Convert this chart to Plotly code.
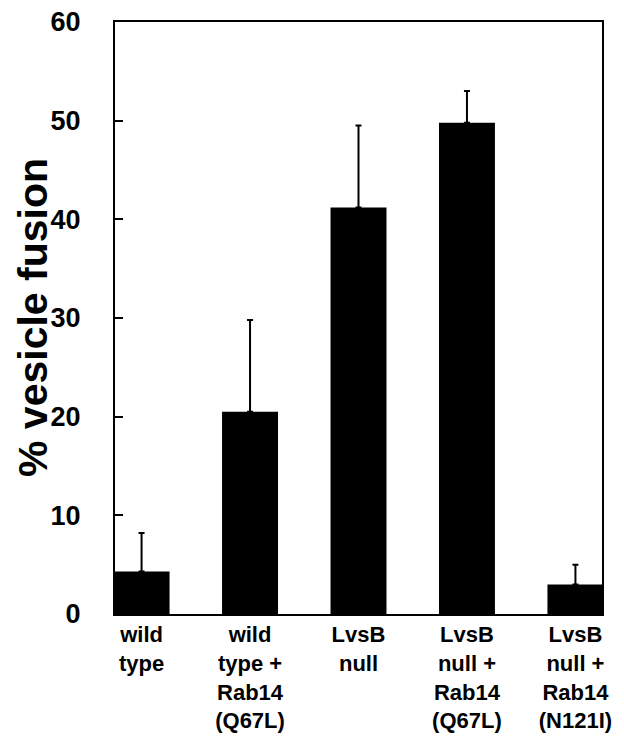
import plotly.graph_objects as go

categories = ["wild<br>type", "wild<br>type +<br>Rab14<br>(Q67L)", "LvsB<br>null",
              "LvsB<br>null +<br>Rab14<br>(Q67L)", "LvsB<br>null +<br>Rab14<br>(N121I)"]
values = [4.3, 20.5, 41.2, 49.8, 3.0]
errors = [3.9, 9.3, 8.3, 3.2, 2.0]
y_ticks = [0, 10, 20, 30, 40, 50, 60]
y_title = "% vesicle fusion"

FONT = "Liberation Sans, Arial, sans-serif"

fig = go.Figure(go.Bar(
    x=list(range(len(categories))), y=values,
    marker=dict(color="black", line=dict(width=0)),
    width=0.516,
    error_y=dict(type="data", symmetric=False, array=errors,
                 arrayminus=[0] * len(errors), color="black",
                 thickness=2, width=3),
))

fig.update_layout(
    width=624, height=737,
    margin=dict(l=107, r=30, t=14, b=131),
    plot_bgcolor="white", paper_bgcolor="white",
    showlegend=False,
    font=dict(family=FONT, color="black"),
    xaxis=dict(
        range=[-0.245, 4.245], automargin=False,
        tickmode="array", tickvals=list(range(len(categories))), ticktext=categories,
        ticks="", showgrid=False, zeroline=False,
        showline=True, linecolor="black", linewidth=2, mirror=True,
        tickfont=dict(size=22, family=FONT, weight="bold"),
        ticklabelstandoff=0, ticklabeloverflow="allow",
    ),
    yaxis=dict(
        range=[0, 60], tickmode="array", tickvals=y_ticks, automargin=False,
        ticks="inside", ticklen=8, tickwidth=2, tickcolor="black",
        showgrid=False, zeroline=False,
        showline=True, linecolor="black", linewidth=2, mirror=True,
        tickfont=dict(size=27, family=FONT, weight="bold"),
        ticklabelstandoff=27, ticklabeloverflow="allow",
    ),
    annotations=[dict(
        text=y_title, xref="paper", yref="paper", x=0, y=0.5,
        xshift=-82, textangle=-90, showarrow=False,
        xanchor="center", yanchor="middle",
        font=dict(size=41, family=FONT, weight="bold", color="black"),
    )],
)

fig.write_html("out.html")
